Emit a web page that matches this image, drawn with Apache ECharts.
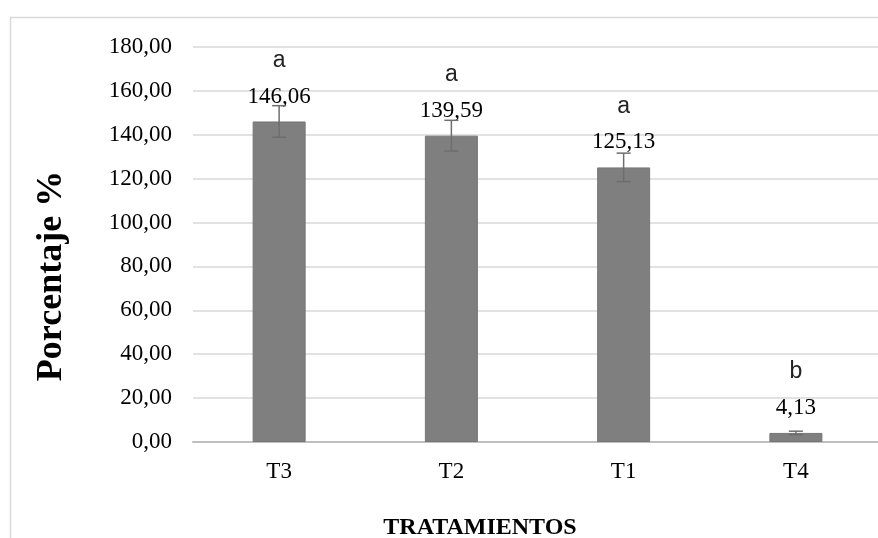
<!DOCTYPE html>
<html>
<head>
<meta charset="utf-8">
<script src="https://cdn.jsdelivr.net/npm/echarts@6/dist/echarts.min.js"></script>
<style>html,body{margin:0;padding:0;background:#fff}#c{width:878px;height:538px}</style>
</head>
<body>
<div id="c"></div>
<script>
var categories = ['T3', 'T2', 'T1', 'T4'];
var values = [146.06, 139.59, 125.13, 4.13];
var errors = [7.2, 7.0, 6.5, 0.8];
var letters = ['a', 'a', 'a', 'b'];
var yTicks = { min: 0, max: 180, interval: 20 };
var xTitle = 'TRATAMIENTOS';
var yTitle = 'Porcentaje %';

function fmt(v) { return v.toFixed(2).replace('.', ','); }

var chart = echarts.init(document.getElementById('c'), null, { renderer: 'canvas' });
var serif = '"Liberation Serif", "Times New Roman", serif';
chart.setOption({
  backgroundColor: '#fff',
  animation: false,
  graphic: [{
    type: 'rect', left: 8, top: 15, silent: true,
    shape: { width: 1000, height: 1000 },
    style: { fill: 'none', stroke: '#d9d9d9', lineWidth: 1.5 }
  }, {
    type: 'text', x: 52, y: 276, rotation: Math.PI / 2, silent: true,
    style: { text: yTitle, font: 'bold 36px ' + serif, fill: '#000', textAlign: 'center', textVerticalAlign: 'middle', align: 'center', verticalAlign: 'middle' }
  }, {
    type: 'text', x: 480, y: 528, silent: true,
    style: { text: xTitle, font: 'bold 24px ' + serif, fill: '#000', textAlign: 'center', textVerticalAlign: 'middle', align: 'center', verticalAlign: 'middle' }
  }],
  grid: { left: 193, top: 47, width: 689, height: 395, outerBoundsMode: 'none', containLabel: false },
  xAxis: {
    type: 'category', data: categories,
    axisLine: { lineStyle: { color: '#bfbfbf', width: 2 } },
    axisTick: { show: false },
    axisLabel: { color: '#000', fontFamily: serif, fontSize: 23, margin: 18 }
  },
  yAxis: {
    type: 'value', min: yTicks.min, max: yTicks.max, interval: yTicks.interval,
    axisLine: { show: false }, axisTick: { show: false },
    splitLine: { lineStyle: { color: '#d9d9d9', width: 1.5 } },
    axisLabel: { color: '#000', fontFamily: serif, fontSize: 23, margin: 21, formatter: fmt }
  },
  series: [{
    type: 'bar', data: values, barWidth: 53,
    itemStyle: { color: '#7f7f7f', borderColor: '#767676', borderWidth: 1 },
    label: {
      show: true, position: 'top', distance: 12,
      formatter: function (p) { return '{l|' + letters[p.dataIndex] + '}\n{v|' + fmt(p.value) + '}'; },
      rich: {
        l: { fontFamily: '"Liberation Sans", Arial, sans-serif', fontSize: 23, lineHeight: 46, color: '#222' },
        v: { fontFamily: serif, fontSize: 23, lineHeight: 26, color: '#000' }
      }
    },
    z: 2
  }, {
    type: 'custom',
    data: values.map(function (v, i) { return [i, v - errors[i], v + errors[i]]; }),
    renderItem: function (params, api) {
      var lo = api.coord([api.value(0), api.value(1)]);
      var hi = api.coord([api.value(0), api.value(2)]);
      var hw = 7;
      var st = { stroke: '#6e6e6e', lineWidth: 1.5 };
      return { type: 'group', children: [
        { type: 'line', shape: { x1: lo[0], y1: lo[1], x2: hi[0], y2: hi[1] }, style: st },
        { type: 'line', shape: { x1: lo[0] - hw, y1: lo[1], x2: lo[0] + hw, y2: lo[1] }, style: st },
        { type: 'line', shape: { x1: hi[0] - hw, y1: hi[1], x2: hi[0] + hw, y2: hi[1] }, style: st }
      ]};
    },
    z: 3
  }]
});
</script>
</body>
</html>
